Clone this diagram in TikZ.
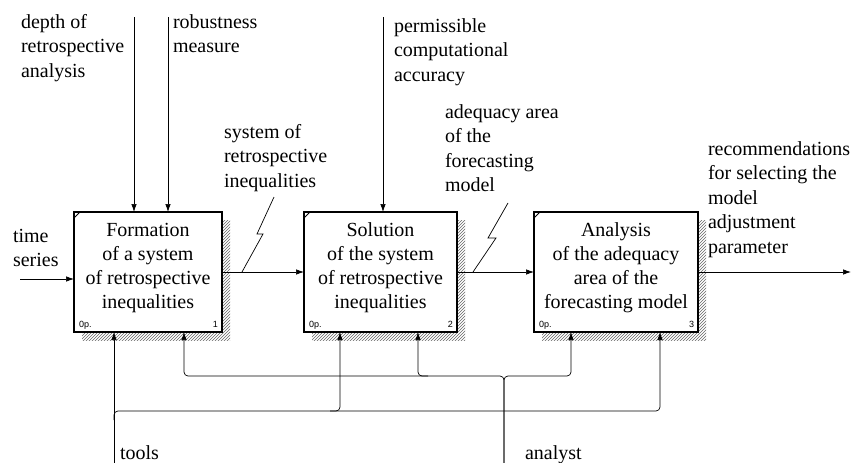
\documentclass[tikz,border=0pt]{standalone}
\usepackage{fontspec}
\setmainfont{Liberation Serif}
\newfontfamily\idsans{Liberation Sans}
\usetikzlibrary{arrows.meta,patterns}
\begin{document}
\begin{tikzpicture}[x=1pt,y=-1pt,
  every node/.style={inner sep=0pt, outer sep=0pt},
  lbl/.style={font=\fontsize{20}{24.5}\selectfont, anchor=base west},
  btxt/.style={font=\fontsize{20}{24}\selectfont, anchor=base},
  fbox/.style={draw, line width=1.2pt, fill=white, minimum height=120pt},
  shad/.style={pattern=north east lines, pattern color=gray!80!black},
  arr/.style={line width=0.7pt, -{Latex[length=8pt,width=5.5pt]}},
  ln/.style={line width=0.7pt},
  tag/.style={font=\idsans\fontsize{9}{10}\selectfont},
  tick/.style={line width=1pt}
]
\useasboundingbox (0,0) rectangle (852,463);

% boxes (positions only)
\path (148,272) coordinate (c1) (380.5,272) coordinate (c2) (616,272) coordinate (c3);
% shadows
\fill[shad] (82,220) rectangle (230,340);
\fill[shad] (312,220) rectangle (465,340);
\fill[shad] (542,220) rectangle (706,340);

\node[fbox, minimum width=148pt] (b1) at (c1) {};
\node[fbox, minimum width=153pt] (b2) at (c2) {};
\node[fbox, minimum width=164pt] (b3) at (c3) {};

\foreach \b in {b1,b2,b3}{
  \draw[tick] ([shift={(0,6)}]\b.north west) -- ([shift={(6,0)}]\b.north west);
}

\node[btxt] (t1) at (148,236) {\begin{tabular}[t]{@{}c@{}}Formation\\ of a system\\ of retrospective\\ inequalities\end{tabular}};
\node[btxt] (t2) at (380.5,236) {\begin{tabular}[t]{@{}c@{}}Solution\\ of the system\\ of retrospective\\ inequalities\end{tabular}};
\node[btxt] (t3) at (616,236) {\begin{tabular}[t]{@{}c@{}}Analysis\\ of the adequacy\\ area of the\\ forecasting model\end{tabular}};

\node[tag, anchor=base west] (p1) at ([shift={(5,-5)}]b1.south west) {0p.};
\node[tag, anchor=base east] (n1) at ([shift={(-4,-5)}]b1.south east) {1};
\node[tag, anchor=base west] (p2) at ([shift={(5,-5)}]b2.south west) {0p.};
\node[tag, anchor=base east] (n2) at ([shift={(-4,-5)}]b2.south east) {2};
\node[tag, anchor=base west] (p3) at ([shift={(5,-5)}]b3.south west) {0p.};
\node[tag, anchor=base east] (n3) at ([shift={(-4,-5)}]b3.south east) {3};

% labels
\node[lbl] (l1) at (21,28) {\begin{tabular}[t]{@{}l@{}}depth of\\ retrospective\\ analysis\end{tabular}};
\node[lbl] (l2) at (173,28) {\begin{tabular}[t]{@{}l@{}}robustness\\ measure\end{tabular}};
\node[lbl] (l3) at (394,32) {\begin{tabular}[t]{@{}l@{}}permissible\\ computational\\ accuracy\end{tabular}};
\node[lbl] (l4) at (224,138) {\begin{tabular}[t]{@{}l@{}}system of\\ retrospective\\ inequalities\end{tabular}};
\node[lbl] (l5) at (445,118) {\begin{tabular}[t]{@{}l@{}}adequacy area\\ of the\\ forecasting\\ model\end{tabular}};
\node[lbl] (l6) at (708,155) {\begin{tabular}[t]{@{}l@{}}recommendations\\ for selecting the\\ model\\ adjustment\\ parameter\end{tabular}};
\node[lbl] (l7) at (13,242) {\begin{tabular}[t]{@{}l@{}}time\\ series\end{tabular}};
\node[lbl] (l8) at (120,459) {tools};
\node[lbl] (l9) at (525,459) {analyst};

% controls
\coordinate (i1) at (134,17);
\coordinate (i2) at (168,17);
\coordinate (i3) at (383,17);
\draw[arr] (i1) -- (i1 |- b1.north);
\draw[arr] (i2) -- (i2 |- b1.north);
\draw[arr] (i3) -- (i3 |- b2.north);

% inputs / outputs
\coordinate (ts) at (20,279);
\draw[arr] (ts) -- (ts -| b1.west);
\draw[arr] (b1.east) -- (b2.west);
\draw[arr] (b2.east) -- (b3.west);
\coordinate (out) at (851,272);
\draw[arr] (b3.east) -- (out);

% squiggles
\coordinate (q1) at (242,272);
\draw[ln] (q1) -- ++(21,-38) -- ++(-6,0) -- ++(17,-37);
\coordinate (q2) at (473,272);
\draw[ln] (q2) -- ++(23,-34) -- ++(-8,0) -- ++(20,-35);

% mechanisms: tools
\coordinate (tl) at (114,463);
\coordinate (tb) at (114,411);
\draw[arr] (tl) -- (tl |- b1.south);
\draw[arr, rounded corners=4pt] ([shift={(0,9)}]tb) -- (tb) -- (660,411) -- (660,411 |- b3.south);
\draw[arr, rounded corners=4pt] (330,411) -- (340,411) -- (340,411 |- b2.south);

% mechanisms: analyst
\coordinate (an) at (504,463);
\coordinate (ab) at (504,376);
\draw[arr, rounded corners=4pt] (an) -- (ab) -- (184,376) -- (184,376 |- b1.south);
\draw[arr, rounded corners=4pt] (an) -- (ab) -- (571,376) -- (571,376 |- b3.south);
\draw[arr, rounded corners=4pt] (428,376) -- (418,376) -- (418,376 |- b2.south);
\end{tikzpicture}
\end{document}
